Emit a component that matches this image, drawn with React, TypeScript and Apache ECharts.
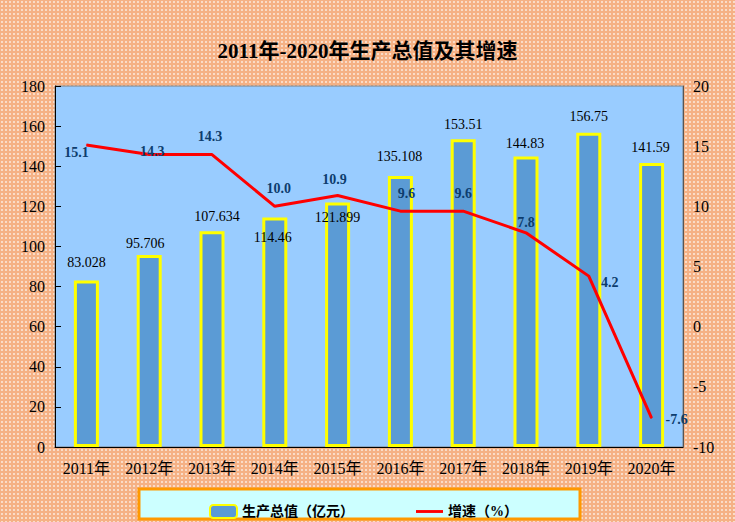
import React, { useEffect, useRef } from "react";
import * as echarts from "echarts";

const categories = ["2011年", "2012年", "2013年", "2014年", "2015年", "2016年", "2017年", "2018年", "2019年", "2020年"];
const outputValues = [83.028, 95.706, 107.634, 114.46, 121.899, 135.108, 153.51, 144.83, 156.75, 141.59];
const growthRates = [15.1, 14.3, 14.3, 10.0, 10.9, 9.6, 9.6, 7.8, 4.2, -7.6];
const barLabelOffsets = [[0, -6], [-4, 0], [5, -3], [-2, 32], [0, 27], [-1, -8], [0, -3], [-1, -1], [0, -4], [-1, -4]];
const lineLabelOffsets = [[-10, 8], [3, -3], [-2, -18], [4, -18], [-3, -16], [6, -18], [0, -18], [0, -10], [21, 6], [25, 1]];

const SERIF = "'Liberation Serif', 'Noto Sans CJK SC', serif";

export default function App() {
  const ref = useRef<HTMLDivElement>(null);
  useEffect(() => {
    if (!ref.current) return;
    const chart = echarts.init(ref.current, null, { renderer: "svg" });
    chart.setOption({
      animation: false,
      backgroundColor: "transparent",
      title: {
        text: "2011年-2020年生产总值及其增速",
        left: "center",
        top: 35,
        textStyle: { fontSize: 21, fontWeight: "bold", fontFamily: SERIF, color: "#000" },
      },
      graphic: [
        {
          type: "rect",
          z: 0,
          shape: { x: 139, y: 489, width: 441, height: 30 },
          style: { fill: "#CCFFFF", stroke: "#FF9900", lineWidth: 3 },
        },
      ],
      legend: {
        z: 5,
        left: 204,
        top: 499,
        itemWidth: 27,
        itemHeight: 13,
        itemGap: 62,
        textStyle: { fontSize: 14, fontWeight: "bold", fontFamily: SERIF, color: "#000" },
        data: [
          { name: "生产总值（亿元）" },
          { name: "增速（%）", icon: "path://M0,0 L30,0 L30,3.2 L0,3.2 Z" },
        ],
      },
      grid: {
        left: 55,
        right: 52,
        top: 86,
        bottom: 75,
        show: true,
        backgroundColor: "#99CCFF",
        borderColor: "#808080",
        borderWidth: 1,
      },
      xAxis: {
        type: "category",
        data: categories,
        axisLine: { lineStyle: { color: "#000", width: 1 } },
        axisTick: { inside: true, length: 5, lineStyle: { color: "#000" } },
        axisLabel: { fontSize: 16, fontFamily: SERIF, color: "#000", margin: 13 },
      },
      yAxis: [
        {
          type: "value",
          min: 0,
          max: 180,
          interval: 20,
          splitLine: { show: false },
          axisLine: { show: true, lineStyle: { color: "#000" } },
          axisTick: { show: true, inside: true, length: 6, lineStyle: { color: "#000" } },
          axisLabel: { fontSize: 16, fontFamily: SERIF, color: "#000", margin: 10 },
        },
        {
          type: "value",
          min: -10,
          max: 20,
          interval: 5,
          splitLine: { show: false },
          axisLine: { show: true, lineStyle: { color: "#555" } },
          axisTick: { show: false },
          axisLabel: { fontSize: 16, fontFamily: SERIF, color: "#000", margin: 10 },
        },
      ],
      series: [
        {
          name: "生产总值（亿元）",
          type: "bar",
          yAxisIndex: 0,
          barWidth: 25,
          itemStyle: { color: "#5B9BD5", borderColor: "#FFFF00", borderWidth: 3 },
          label: {
            show: true,
            position: "top",
            fontSize: 14,
            fontFamily: SERIF,
            color: "#000",
          },
          data: outputValues.map((v, i) => ({
            value: v,
            label: { offset: barLabelOffsets[i] },
          })),
        },
        {
          name: "增速（%）",
          type: "line",
          yAxisIndex: 1,
          symbol: "circle",
          symbolSize: 1,
          itemStyle: { color: "#FF0000" },
          lineStyle: { color: "#FF0000", width: 3 },
          label: {
            show: true,
            position: "inside",
            fontSize: 14,
            fontWeight: "bold",
            fontFamily: SERIF,
            color: "#0D3D6E",
            formatter: (p: any) => Number(p.value).toFixed(1),
          },
          data: growthRates.map((v, i) => ({
            value: v,
            label: { offset: lineLabelOffsets[i] },
          })),
        },
      ],
    });
    return () => chart.dispose();
  }, []);
  return (
    <div
      ref={ref}
      style={{
        position: "absolute",
        left: 0,
        top: 0,
        width: 735,
        height: 522,
        backgroundColor: "#F5B185",
        backgroundImage: "radial-gradient(circle, rgba(255,255,255,0.75) 0.6px, transparent 1px)",
        backgroundSize: "4px 4px",
      }}
    />
  );
}
